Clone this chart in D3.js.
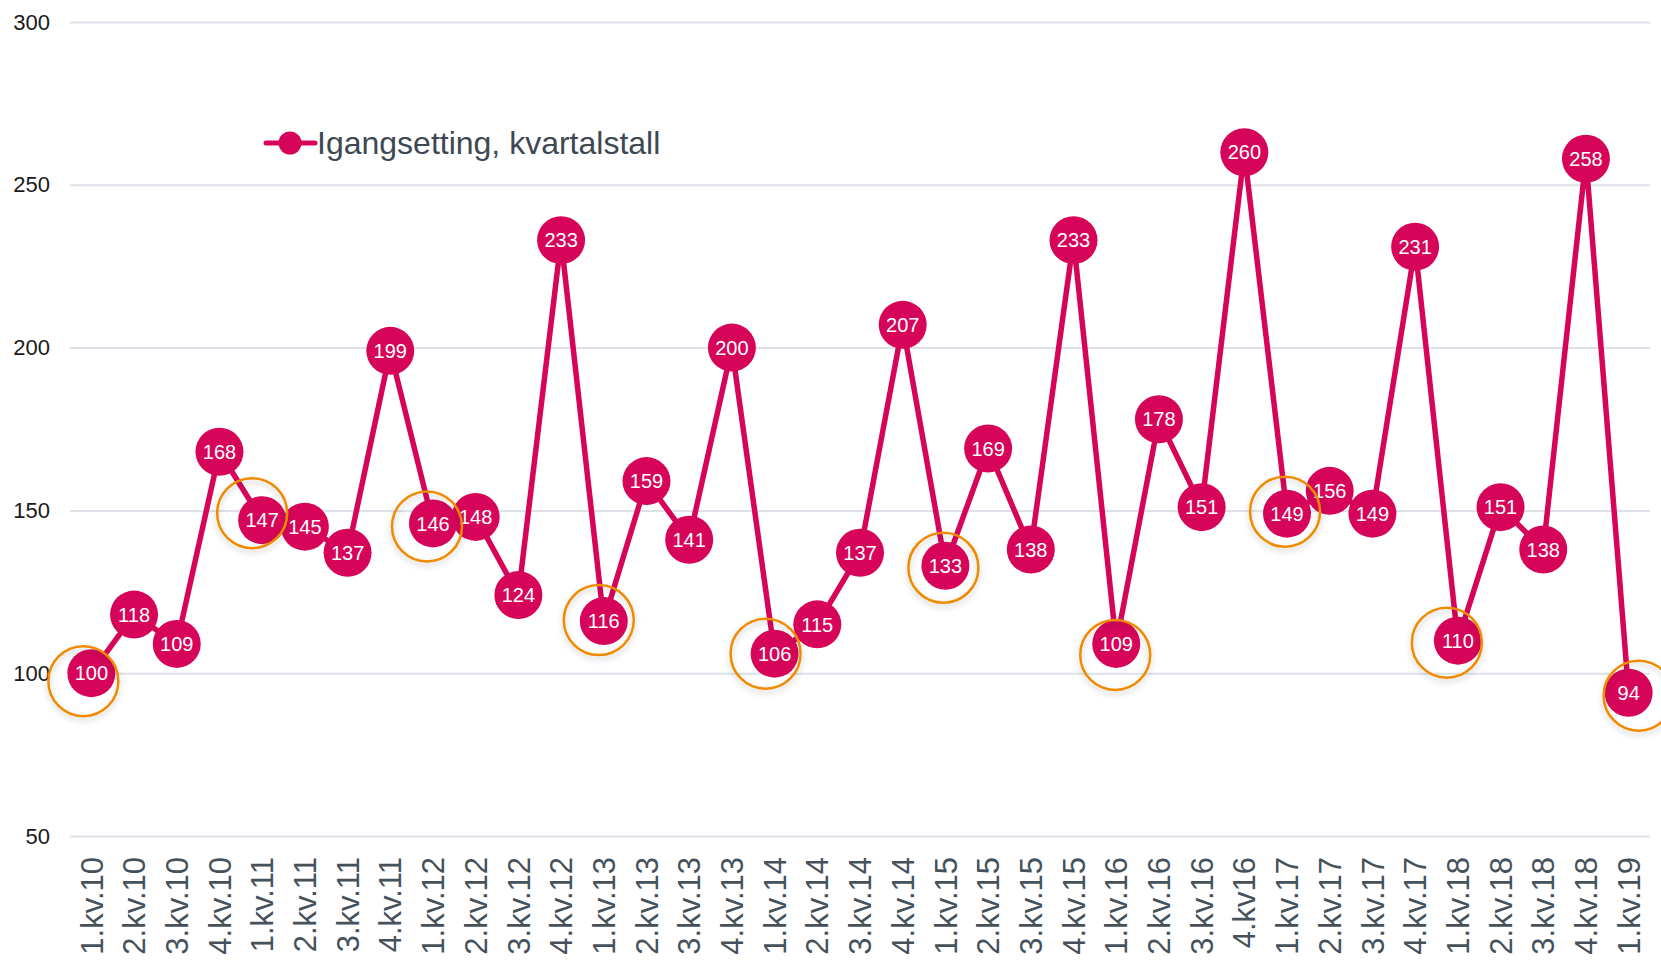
<!DOCTYPE html>
<html>
<head>
<meta charset="utf-8">
<script src="https://cdn.jsdelivr.net/npm/d3@7"></script>
<style>
  html, body { margin: 0; padding: 0; background: #fff; }
  svg { display: block; font-family: "Liberation Sans", Arial, sans-serif; }
</style>
</head>
<body>
<svg id="chart" width="1661" height="960"></svg>
<script>
const categories = [
  "1.kv.10","2.kv.10","3.kv.10","4.kv.10",
  "1.kv.11","2.kv.11","3.kv.11","4.kv.11",
  "1.kv.12","2.kv.12","3.kv.12","4.kv.12",
  "1.kv.13","2.kv.13","3.kv.13","4.kv.13",
  "1.kv.14","2.kv.14","3.kv.14","4.kv.14",
  "1.kv.15","2.kv.15","3.kv.15","4.kv.15",
  "1.kv.16","2.kv.16","3.kv.16","4.kv16",
  "1.kv.17","2.kv.17","3.kv.17","4.kv.17",
  "1.kv.18","2.kv.18","3.kv.18","4.kv.18",
  "1.kv.19"
];
const values = [
  100,118,109,168,
  147,145,137,199,
  146,148,124,233,
  116,159,141,200,
  106,115,137,207,
  133,169,138,233,
  109,178,151,260,
  149,156,149,231,
  110,151,138,258,
  94
];
const yTicks = [50,100,150,200,250,300];
const seriesName = "Igangsetting, kvartalstall";
// first-quarter points that are highlighted with a ring
const highlighted = ["1.kv.10","1.kv.11","1.kv.12","1.kv.13","1.kv.14","1.kv.15","1.kv.16","1.kv.17","1.kv.18","1.kv.19"];

// ring nudges (annotation styling, px)
const ringNudge = {
  "1.kv.10":[-8,8], "1.kv.11":[-10,-7], "1.kv.12":[-6,3], "1.kv.13":[-5,-1],
  "1.kv.14":[-9,0], "1.kv.15":[-2,2], "1.kv.16":[-1,11], "1.kv.17":[-2,-2],
  "1.kv.18":[-11,2], "1.kv.19":[10,3]
};

const data = categories.map((c,i)=>({cat:c, val:values[i]}));

const svg = d3.select("#chart");
const pLeft = 70, pRight = 1650, pTop = 22, pBottom = 836;
const red = "#d6055a";

const x = d3.scaleBand().domain(categories).range([pLeft, pRight]);
const y = d3.scaleLinear().domain([50,300]).range([pBottom, pTop]);
const cx = d => x(d.cat) + x.bandwidth()/2;

const defs = svg.append("defs");
const f = defs.append("filter").attr("id","ringShadow")
  .attr("x","-50%").attr("y","-50%").attr("width","200%").attr("height","200%");
f.append("feDropShadow").attr("dx",0).attr("dy",3).attr("stdDeviation",3)
  .attr("flood-color","#000").attr("flood-opacity",0.22);

// gridlines
const yAxis = d3.axisLeft(y).tickValues(yTicks).tickSize(-(pRight-pLeft)).tickPadding(20);
const gy = svg.append("g").attr("transform",`translate(${pLeft},0)`).call(yAxis);
gy.select(".domain").remove();
gy.selectAll(".tick line").attr("stroke","#dde2e8").attr("stroke-width",2);
gy.selectAll(".tick text").attr("fill","#1a1a1a").attr("font-size",22)
  .attr("font-family",'"Liberation Sans", Arial, sans-serif');

// x axis labels
const xAxis = d3.axisBottom(x).tickSize(0).tickPadding(0);
const gx = svg.append("g").attr("transform",`translate(0,${pBottom})`).call(xAxis);
gx.select(".domain").remove();
gx.selectAll(".tick text")
  .attr("font-size",31).attr("fill","#46525b")
  .attr("font-family",'"Liberation Sans", Arial, sans-serif')
  .attr("text-anchor","end")
  .attr("transform","rotate(-90)")
  .attr("x",-21).attr("y",0).attr("dy","0.36em");

// line
const line = d3.line().x(cx).y(d=>y(d.val));
svg.append("path").datum(data).attr("d",line)
  .attr("fill","none").attr("stroke",red).attr("stroke-width",5.5).attr("stroke-linejoin","round");

// markers
const pts = svg.append("g").selectAll("g").data(data).join("g")
  .attr("transform",d=>`translate(${cx(d)},${y(d.val)})`);
pts.append("circle").attr("r",24).attr("fill",red);
pts.append("text").text(d=>d.val)
  .attr("text-anchor","middle").attr("dy","0.36em")
  .attr("fill","#fff").attr("font-size",20);

// highlight rings
svg.append("g").selectAll("circle").data(data.filter(d=>highlighted.includes(d.cat))).join("circle")
  .attr("cx",d=>cx(d)+ringNudge[d.cat][0])
  .attr("cy",d=>y(d.val)+ringNudge[d.cat][1])
  .attr("r",35).attr("fill","none")
  .attr("stroke","#f08a00").attr("stroke-width",2.5)
  .attr("filter","url(#ringShadow)");

// legend
const lg = svg.append("g").attr("transform","translate(266,143)");
lg.append("line").attr("x1",0).attr("x2",49).attr("y1",0).attr("y2",0)
  .attr("stroke",red).attr("stroke-width",5).attr("stroke-linecap","round");
lg.append("circle").attr("cx",24).attr("r",11.5).attr("fill",red);
lg.append("text").attr("x",51).attr("dy","0.35em").text(seriesName)
  .attr("font-size",32).attr("fill","#3d4852");
</script>
</body>
</html>
